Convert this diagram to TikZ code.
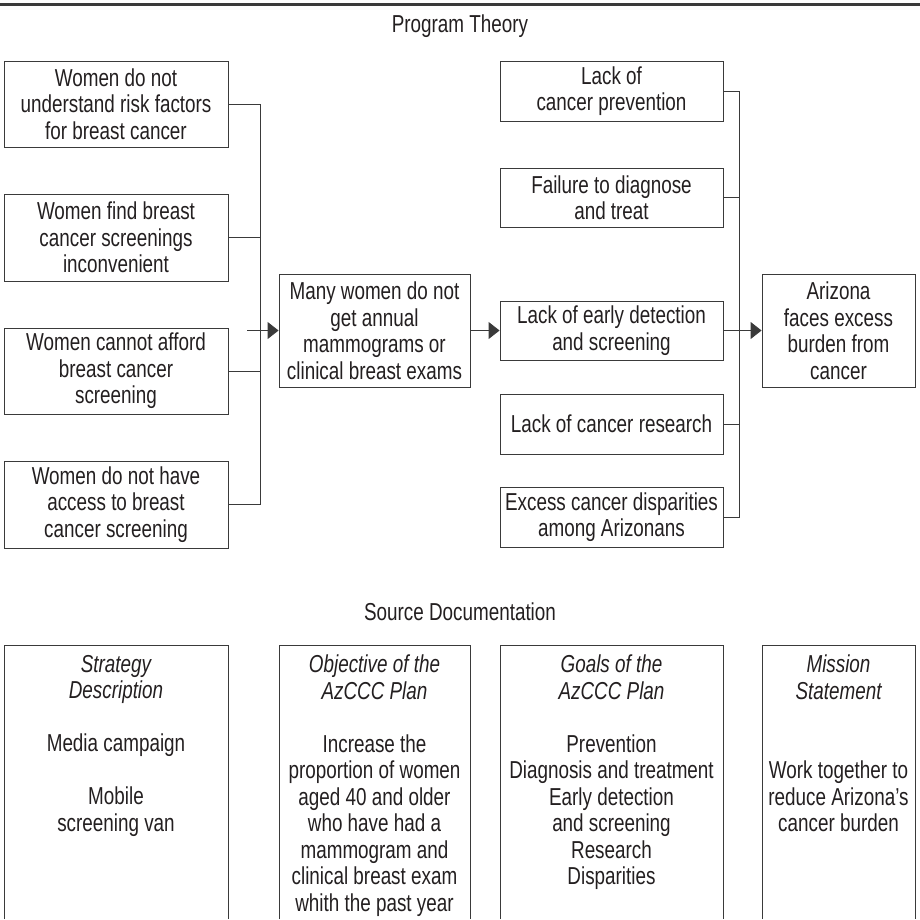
\documentclass[tikz,border=0pt]{standalone}
\usepackage{fontspec}
\setmainfont{Liberation Sans}[FakeStretch=0.77]
\usetikzlibrary{arrows.meta}
\definecolor{ink}{HTML}{231F20}
\definecolor{rule}{HTML}{3A3A3A}
\begin{document}
\begin{tikzpicture}[x=1pt,y=-1pt,
  txt/.style={text=ink,font=\fontsize{24.5}{26.5}\selectfont,align=center,inner sep=0pt},
  box/.style={txt,draw=rule,line width=0.9pt},
  link/.style={draw=rule,line width=0.9pt},
  arr/.style={link,-{Triangle[length=11pt,width=17pt]}},
  heading/.style={txt,anchor=base}]
\useasboundingbox (0,0) rectangle (920,919);
\draw[rule,line width=2.6pt] (0,4.5) -- (920,4.5);
\node[heading] (pt) at (460,32) {Program Theory};
% left column
\node[box,minimum width=224pt,minimum height=86pt] (L1) at (116,104) {Women do not\\understand risk factors\\for breast cancer};
\node[box,minimum width=224pt,minimum height=87pt] (L2) at (116,237.5) {Women find breast\\cancer screenings\\inconvenient};
\node[box,minimum width=224pt,minimum height=86pt] (L3) at (116,371) {Women cannot afford\\breast cancer\\screening};
\node[box,minimum width=224pt,minimum height=87pt] (L4) at (116,504.5) {Women do not have\\access to breast\\cancer screening};
% middle
\node[box,minimum width=191pt,minimum height=113pt] (M) at (374.5,330.5) {Many women do not\\get annual\\mammograms or\\clinical breast exams};
% right column
\node[box,minimum width=223pt,minimum height=60pt] (R1) at (611.5,91) {Lack of\\cancer prevention};
\node[box,minimum width=223pt,minimum height=59pt] (R2) at (611.5,197.5) {Failure to diagnose\\and treat};
\node[box,minimum width=223pt,minimum height=59pt] (R3) at (611.5,330.5) {Lack of early detection\\and screening};
\node[box,minimum width=223pt,minimum height=60pt] (R4) at (611.5,424) {Lack of cancer research};
\node[box,minimum width=223pt,minimum height=60pt] (R5) at (611.5,517) {Excess cancer disparities\\among Arizonans};
\node[box,minimum width=153pt,minimum height=113pt] (AZ) at (838.5,330.5) {Arizona\\faces excess\\burden from\\cancer};
% junctions
\coordinate (jl) at (260,0);
\coordinate (jr) at (739,0);
\coordinate (as) at (247,330.5);
\draw[link] (L1.east) -- (L1.east -| jl) -- (L4.east -| jl) -- (L4.east);
\draw[link] (L2.east) -- (L2.east -| jl);
\draw[link] (L3.east) -- (L3.east -| jl);
\draw[arr] (as) -- (M.west);
\draw[arr] (M.east) -- (R3.west);
\draw[link] (R1.east) -- (R1.east -| jr) -- (R5.east -| jr) -- (R5.east);
\draw[link] (R2.east) -- (R2.east -| jr);
\draw[link] (R4.east) -- (R4.east -| jr);
\draw[arr] (R3.east) -- (AZ.west);
% source documentation
\node[heading] (sd) at (460,620) {Source Documentation};
\node[txt,anchor=north] (B1) at (116,655) {\itshape Strategy\\\itshape Description\\[26.5pt]Media campaign\\[26.5pt]Mobile\\screening van};
\node[txt,anchor=north] (B2) at (374.5,655) {\itshape Objective of the\\\itshape AzCCC Plan\\[26.5pt]Increase the\\proportion of women\\aged 40 and older\\who have had a\\mammogram and\\clinical breast exam\\whith the past year};
\node[txt,anchor=north] (B3) at (611.5,655) {\itshape Goals of the\\\itshape AzCCC Plan\\[26.5pt]Prevention\\Diagnosis and treatment\\Early detection\\and screening\\Research\\Disparities};
\node[txt,anchor=north] (B4) at (838.5,655) {\itshape Mission\\\itshape Statement\\[53pt]Work together to\\reduce Arizona’s\\cancer burden};
\draw[link] (4,919) -- (4,645) -- (228,645) -- (228,919);
\draw[link] (279,919) -- (279,645) -- (470,645) -- (470,919);
\draw[link] (500,919) -- (500,645) -- (723,645) -- (723,919);
\draw[link] (762,919) -- (762,645) -- (915,645) -- (915,919);
\end{tikzpicture}
\end{document}
